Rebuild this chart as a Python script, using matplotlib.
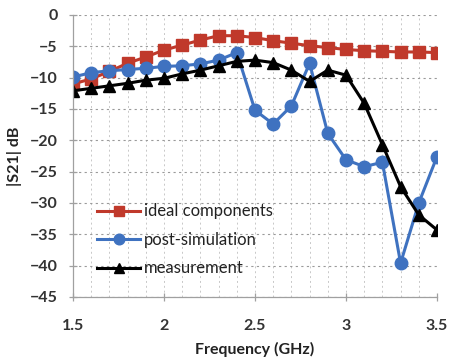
import numpy as np
import matplotlib
matplotlib.use('Agg')
import matplotlib.pyplot as plt
from matplotlib.ticker import MultipleLocator

plt.rcParams['font.family'] = ['Lato', 'DejaVu Sans']

# frequence (GHz) et |S21| (dB) pour les trois courbes
freq = [1.5, 1.6, 1.7, 1.8, 1.9, 2.0, 2.1, 2.2, 2.3, 2.4, 2.5,
        2.6, 2.7, 2.8, 2.9, 3.0, 3.1, 3.2, 3.3, 3.4, 3.5]
ideal = [-11.0, -10.2, -9.0, -7.7, -6.7, -5.6, -4.8, -4.0, -3.3, -3.3, -3.6,
         -4.1, -4.5, -4.9, -5.2, -5.5, -5.7, -5.8, -5.9, -5.9, -6.0]
post_sim = [-9.9, -9.2, -8.9, -8.7, -8.5, -8.2, -8.1, -7.8, -7.2, -6.0, -15.2,
            -17.4, -14.5, -7.7, -18.9, -23.1, -24.2, -23.5, -39.6, -30.0, -22.6]
mesure = [-12.1, -11.7, -11.3, -10.9, -10.4, -10.1, -9.4, -8.8, -8.1, -7.4, -7.2,
          -7.6, -8.8, -10.6, -8.8, -9.6, -14.1, -20.7, -27.4, -31.9, -34.3]

labels = ['ideal components', 'post-simulation', 'measurement']

fig = plt.figure(figsize=(4.52, 3.64), dpi=100)
ax = fig.add_axes([73/452, 1 - 297/364, (437-73)/452, (297-15)/364])

ax.plot(freq, ideal, '-s', color='#C0392B', lw=2.2, ms=9, label=labels[0])
ax.plot(freq, post_sim, '-o', color='#3F72C0', lw=2.2, ms=9, label=labels[1])
ax.plot(freq, mesure, '-^', color='black', lw=2.2, ms=8.5, label=labels[2])

ax.set_xlim(1.5, 3.5)
ax.set_ylim(-45, 0)
ax.xaxis.set_major_locator(MultipleLocator(0.5))
ax.xaxis.set_minor_locator(MultipleLocator(0.1))
ax.yaxis.set_major_locator(MultipleLocator(5))

ax.grid(which='major', axis='y', ls=(0, (2, 3)), color='#9a9a9a', lw=0.8)
ax.grid(which='both', axis='x', ls=(0, (2, 3)), color='#c8c8c8', lw=0.7)

for s in ['top', 'right']:
    ax.spines[s].set_visible(False)
for s in ['left', 'bottom']:
    ax.spines[s].set_color('#a0a0a0')
    ax.spines[s].set_linewidth(0.9)

ax.tick_params(which='major', direction='inout', length=6, width=0.9,
               color='#a0a0a0', labelsize=11.5, labelcolor='#333333', pad=8)
ax.tick_params(axis='x', which='major', pad=13)
ax.tick_params(which='minor', length=0)
ax.set_xticks([1.5, 2, 2.5, 3, 3.5])
ax.set_xticklabels(['1.5', '2', '2.5', '3', '3.5'])
for t in ax.get_xticklabels() + ax.get_yticklabels():
    t.set_fontweight('bold')

ax.set_xlabel('Frequency (GHz)', fontsize=11.5, fontweight='bold', color='#222222')
ax.set_ylabel('|S21| dB', fontsize=11.5, fontweight='bold', color='#222222')
ax.xaxis.set_label_coords(0.5, -0.16)
ax.yaxis.set_label_coords(-0.14, 0.5)

leg = ax.legend(loc='lower left', bbox_to_anchor=(0.025, 0.02), frameon=False,
                fontsize=12, handlelength=2.6, handletextpad=0.2,
                labelspacing=0.75, markerscale=0.85)
for t in leg.get_texts():
    t.set_color('#222222')

fig.savefig('out.png', dpi=100)
